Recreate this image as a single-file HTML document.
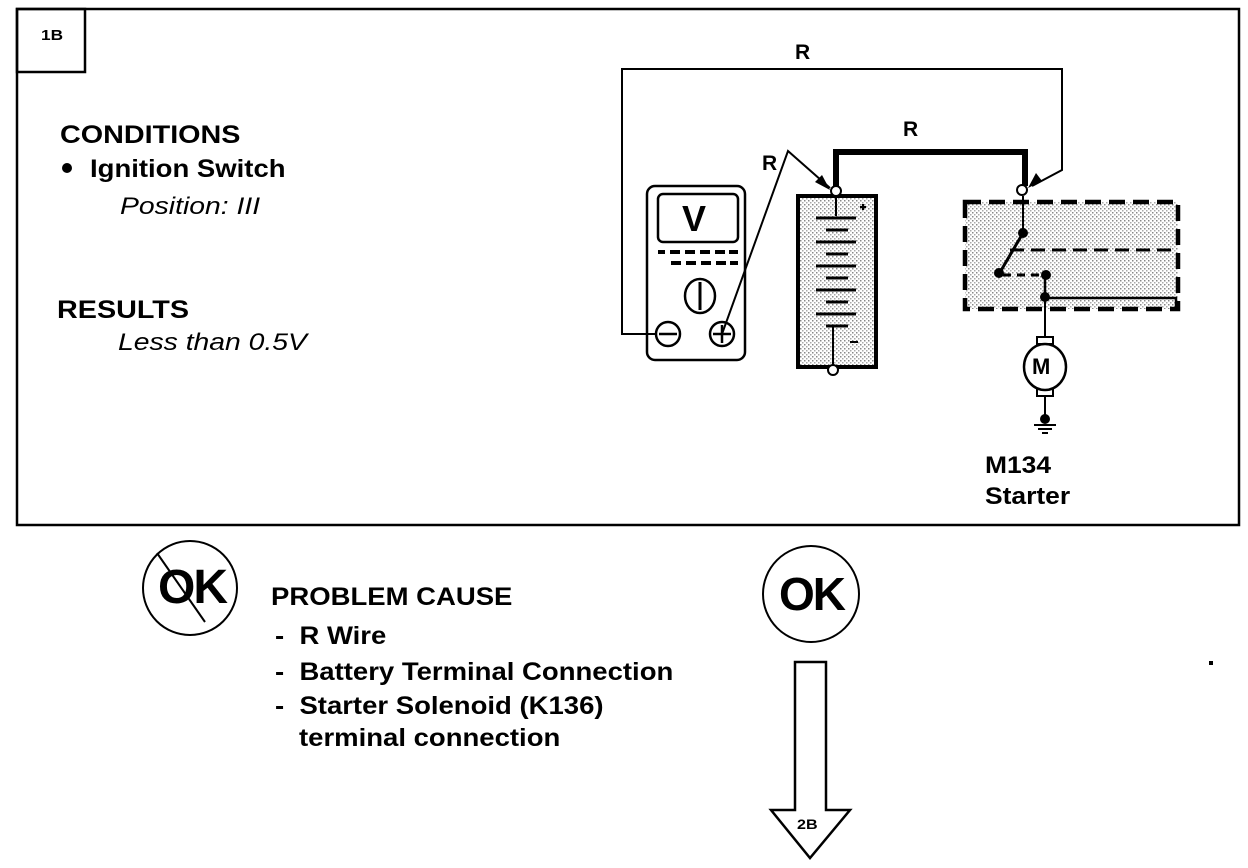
<!DOCTYPE html>
<html><head><meta charset="utf-8"><style>
html,body{margin:0;padding:0;background:#fff;}
body{width:1248px;height:868px;position:relative;overflow:hidden;font-family:"Liberation Sans",Arial,sans-serif;}
.t{position:absolute;font-weight:bold;color:#000;white-space:nowrap;transform-origin:0 0;}
.w{transform:scaleX(1.15);}
.v{transform:scaleX(1.1);}
.i{font-style:italic;font-weight:normal;transform:scaleX(1.18);}
</style></head><body>
<svg width="1248" height="868" style="position:absolute;left:0;top:0">
<defs>
<pattern id="dots" width="4" height="4" patternUnits="userSpaceOnUse">
<rect width="4" height="4" fill="#fff"/><rect x="0" y="0" width="1.5" height="1.5" fill="#888"/><rect x="2" y="2" width="1.5" height="1.5" fill="#aaa"/>
</pattern>
</defs>
<g fill="none" stroke="#000">
<rect x="17" y="9" width="1222" height="516" stroke-width="2.5"/>
<rect x="17" y="9" width="68" height="63" stroke-width="2.5"/>
<rect x="647" y="186" width="98" height="174" rx="8" stroke-width="2.5"/>
<rect x="658" y="194" width="80" height="48" rx="5" stroke-width="2.5"/>
<g stroke-width="4">
<line x1="658" y1="252" x2="665" y2="252"/><line x1="670" y1="252" x2="680" y2="252"/><line x1="685" y1="252" x2="695" y2="252"/><line x1="700" y1="252" x2="710" y2="252"/><line x1="715" y1="252" x2="725" y2="252"/><line x1="729" y1="252" x2="738" y2="252"/>
<line x1="671" y1="263" x2="681" y2="263"/><line x1="686" y1="263" x2="696" y2="263"/><line x1="701" y1="263" x2="711" y2="263"/><line x1="716" y1="263" x2="726" y2="263"/><line x1="730" y1="263" x2="738" y2="263"/>
</g>
<ellipse cx="700" cy="296" rx="15" ry="17" stroke-width="2.5"/><line x1="700" y1="282" x2="700" y2="310" stroke-width="3"/>
<circle cx="668" cy="334" r="12" stroke-width="2.5"/><line x1="659" y1="334" x2="677" y2="334" stroke-width="2.5"/>
<circle cx="722" cy="334" r="12" stroke-width="2.5"/><line x1="713" y1="334" x2="731" y2="334" stroke-width="2.5"/><line x1="722" y1="325" x2="722" y2="343" stroke-width="2.5"/>
<polyline points="656,334 622,334 622,69 1062,69 1062,170 1032,186" stroke-width="2"/>
<polyline points="722,334 788,151 830,188" stroke-width="2"/>
<polyline points="836,188 836,152 1025,152 1025,186" stroke-width="6"/>
<rect x="798" y="196" width="78" height="171" fill="url(#dots)" stroke-width="4"/>
<line x1="836" y1="198" x2="836" y2="216" stroke-width="2"/>
<g stroke-width="3"><line x1="816" y1="218" x2="856" y2="218"/><line x1="826" y1="230" x2="848" y2="230"/><line x1="816" y1="242" x2="856" y2="242"/><line x1="826" y1="254" x2="848" y2="254"/><line x1="816" y1="266" x2="856" y2="266"/><line x1="826" y1="278" x2="848" y2="278"/><line x1="816" y1="290" x2="856" y2="290"/><line x1="826" y1="302" x2="848" y2="302"/><line x1="816" y1="314" x2="856" y2="314"/><line x1="826" y1="326" x2="848" y2="326"/></g>
<line x1="833" y1="326" x2="833" y2="366" stroke-width="2"/>
<line x1="860" y1="207" x2="866" y2="207" stroke-width="2"/><line x1="863" y1="204" x2="863" y2="210" stroke-width="2"/>
<line x1="850" y1="342" x2="858" y2="342" stroke-width="2"/>
<circle cx="836" cy="191" r="5" fill="#fff" stroke-width="2"/>
<circle cx="833" cy="370" r="5" fill="#fff" stroke-width="2"/>
<rect x="965" y="202" width="213" height="107" fill="url(#dots)" stroke="none"/>
<rect x="965" y="202" width="213" height="107" stroke-width="4.5" stroke-dasharray="16,8"/>
<line x1="1010" y1="250" x2="1178" y2="250" stroke-width="3" stroke-dasharray="14,7"/>
<line x1="1023" y1="196" x2="1023" y2="233" stroke-width="2"/>
<line x1="1023" y1="233" x2="999" y2="274" stroke-width="3"/>
<line x1="1003" y1="275" x2="1040" y2="275" stroke-width="3" stroke-dasharray="8,6"/>
<polyline points="1045,275 1045,298 1176,298 1176,308" stroke-width="2.5"/>
<line x1="1045" y1="298" x2="1045" y2="338" stroke-width="2"/>
<circle cx="1022" cy="190" r="5" fill="#fff" stroke-width="2"/>
<rect x="1037" y="337" width="16" height="7" stroke-width="2"/>
<rect x="1037" y="389" width="16" height="7" stroke-width="2"/>
<ellipse cx="1045" cy="367" rx="21" ry="23" stroke-width="2.5" fill="#fff"/>
<line x1="1045" y1="396" x2="1045" y2="418" stroke-width="2"/>
<line x1="1034" y1="425" x2="1056" y2="425" stroke-width="2"/><line x1="1038" y1="429" x2="1052" y2="429" stroke-width="2"/><line x1="1042" y1="433" x2="1048" y2="433" stroke-width="2"/>
<circle cx="190" cy="588" r="47" stroke-width="2"/>
<line x1="157" y1="553" x2="205" y2="622" stroke-width="2"/>
<circle cx="811" cy="594" r="48" stroke-width="2"/>
<polygon points="795,662 826,662 826,810 850,810 810,858 771,810 795,810" stroke-width="2.5"/>
</g>
<g fill="#000">
<circle cx="1023" cy="233" r="5"/><circle cx="999" cy="273" r="5"/><circle cx="1046" cy="275" r="5"/><circle cx="1045" cy="297" r="5"/><circle cx="1045" cy="419" r="5"/>
<polygon points="830,190 815,182 822,175"/>
<polygon points="1028,188 1036,173 1042,181"/>
<circle cx="67" cy="168" r="5"/>
</g>
</svg>
<div class="t w" style="left:41px;top:27px;font-size:15px">1B</div>
<div class="t" style="left:682px;top:198px;font-size:36px">V</div>
<div class="t" style="left:1032px;top:354px;font-size:22px">M</div>
<div class="t" style="left:795px;top:41px;font-size:21px">R</div>
<div class="t" style="left:903px;top:118px;font-size:21px">R</div>
<div class="t" style="left:762px;top:152px;font-size:21px">R</div>
<div class="t w" style="left:60px;top:121px;font-size:25px">CONDITIONS</div>
<div class="t v" style="left:90px;top:155px;font-size:25px">Ignition Switch</div>
<div class="t i" style="left:120px;top:193px;font-size:24px">Position: III</div>
<div class="t w" style="left:57px;top:296px;font-size:25px">RESULTS</div>
<div class="t i" style="left:118px;top:329px;font-size:24px">Less than 0.5V</div>
<div class="t v" style="left:985px;top:452px;font-size:24px">M134</div>
<div class="t v" style="left:985px;top:483px;font-size:24px">Starter</div>
<div class="t" style="left:158px;top:560px;font-size:48px;letter-spacing:-2px">OK</div>
<div class="t" style="left:779px;top:567px;font-size:46px;letter-spacing:-2px">OK</div>
<div class="t v" style="left:271px;top:583px;font-size:25px">PROBLEM CAUSE</div>
<div class="t v" style="left:275px;top:622px;font-size:25px">-&nbsp;&nbsp;R Wire</div>
<div class="t v" style="left:275px;top:658px;font-size:25px">-&nbsp;&nbsp;Battery Terminal Connection</div>
<div class="t v" style="left:275px;top:692px;font-size:25px">-&nbsp;&nbsp;Starter Solenoid (K136)</div>
<div class="t v" style="left:299px;top:724px;font-size:25px">terminal connection</div>
<div class="t w" style="left:797px;top:816px;font-size:14px">2B</div>
<div style="position:absolute;left:1209px;top:661px;width:4px;height:4px;background:#000"></div>
</body></html>
